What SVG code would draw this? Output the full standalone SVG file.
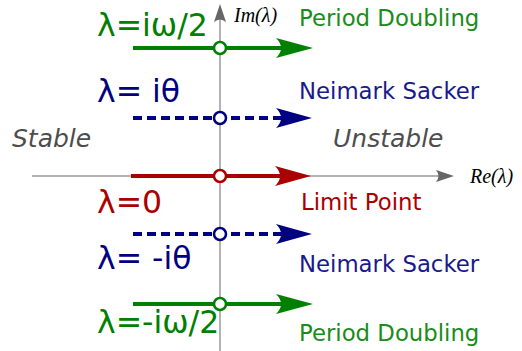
<svg xmlns="http://www.w3.org/2000/svg" width="522" height="351" viewBox="0 0 522 351">
<style>
.ax{stroke:#9a9a9a;stroke-width:1.5;fill:none}
.axh{fill:#666}
.ln{stroke-width:4;fill:none}
.dash{stroke-dasharray:9,5}
.pt{fill:#fff;stroke-width:2.5}
.big{font-family:"DejaVu Sans",sans-serif;font-size:31.5px}
.lbl{font-family:"DejaVu Sans",sans-serif;font-size:22.8px}
.reg{font-family:"DejaVu Sans",sans-serif;font-size:25px;font-style:italic;fill:#4d4d4d}
.math{font-family:"Liberation Serif",serif;font-size:20px;font-style:italic;fill:#000}
.g{fill:#008000}.gs{stroke:#008000}
.b{fill:#000080}.bs{stroke:#000080}
.r{fill:#aa0000}.rs{stroke:#aa0000}
.gt{fill:#1a8c1a}.bt{fill:#1a1a8c}
</style>
<g id="axes">
<line class="ax" x1="220" y1="18" x2="220" y2="351"/>
<path class="axh" d="M220,4 L226,22 Q220,17 214,22 Z"/>
<line class="ax" x1="32" y1="176" x2="442" y2="176"/>
<path class="axh" d="M454,176 L436,170 Q441,176 436,182 Z"/>
<text class="math" x="234" y="22">Im(λ)</text>
<text class="math" x="470" y="183">Re(λ)</text>
</g>
<g id="regions">
<text class="reg" x="12" y="147">Stable</text>
<text class="reg" x="333" y="147">Unstable</text>
</g>
<g id="connectors">
<line class="ln gs" x1="133" y1="48" x2="290" y2="48"/>
<path class="g" d="M313,48 L276,38 Q286,48 276,58 Z"/>
<line class="ln bs dash" x1="133" y1="118" x2="290" y2="118"/>
<path class="b" d="M312,118 L276,108 Q286,118 276,128 Z"/>
<line class="ln rs" x1="131" y1="176" x2="290" y2="176"/>
<path class="r" d="M311,176 L275,166 Q285,176 275,186 Z"/>
<line class="ln bs dash" x1="133" y1="234" x2="290" y2="234"/>
<path class="b" d="M312,234 L276,224 Q286,234 276,244 Z"/>
<line class="ln gs" x1="133" y1="304" x2="290" y2="304"/>
<path class="g" d="M313,304 L276,294 Q286,304 276,314 Z"/>
</g>
<g id="pd-top">
<circle class="pt gs" cx="220" cy="48" r="6"/>
<text class="big g" x="97" y="36">λ=iω/2</text>
<text class="lbl gt" x="299" y="26">Period Doubling</text>
</g>
<g id="ns-top">
<circle class="pt bs" cx="220" cy="118" r="6"/>
<text class="big b" x="97" y="102">λ= iθ</text>
<text class="lbl bt" x="299" y="99">Neimark Sacker</text>
</g>
<g id="lp">
<circle class="pt rs" cx="220" cy="176" r="6"/>
<text class="big r" x="97" y="213">λ=0</text>
<text class="lbl r" x="301" y="210">Limit Point</text>
</g>
<g id="ns-bottom">
<circle class="pt bs" cx="220" cy="234" r="6"/>
<text class="big b" x="97" y="269">λ= -iθ</text>
<text class="lbl bt" x="299" y="272">Neimark Sacker</text>
</g>
<g id="pd-bottom">
<circle class="pt gs" cx="220" cy="304" r="6"/>
<text class="big g" x="97" y="333">λ=-iω/2</text>
<text class="lbl gt" x="299" y="341">Period Doubling</text>
</g>
</svg>
